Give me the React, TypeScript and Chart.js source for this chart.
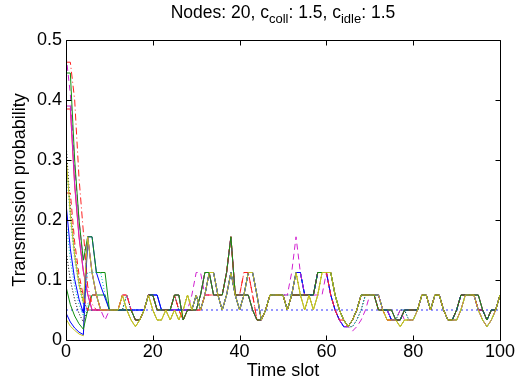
import React, { useEffect, useRef } from "react";
import { Chart, registerables } from "chart.js";

Chart.register(...registerables);

const FONT = 'Arial, "Liberation Sans", Helvetica, sans-serif';

// Axis ticks
const xTickValues = [0, 20, 40, 60, 80, 100];
const yTickValues = [0, 0.1, 0.2, 0.3, 0.4, 0.5];

// Reference (optimal) probability 1/N
const optimalP = 0.05;

// Heads: time slots 0..9
const headYellowA = [0.31, 0.21, 0.14, 0.093, 0.062, 0.172, 0.1125, 0.075, 0.05, 0.05];
const headGreen = [0.445, 0.445, 0.3, 0.2, 0.133, 0.172, 0.172, 0.1125, 0.1125, 0.1125];
const headRedDash = [0.245, 0.245, 0.163, 0.109, 0.073, 0.049, 0.075, 0.075, 0.05, 0.05];
const headMagentaDash = [0.475, 0.41, 0.29, 0.2, 0.13, 0.172, 0.1125, 0.075, 0.05, 0.0333];
const headBlue = [0.228, 0.152, 0.101, 0.068, 0.045, 0.172, 0.172, 0.1125, 0.09, 0.07];
const headCyanDot = [0.3, 0.2, 0.133, 0.089, 0.059, 0.1125, 0.1125, 0.1125, 0.1125, 0.075];
const headMagenta = [0.39, 0.39, 0.26, 0.173, 0.115, 0.077, 0.05, 0.05, 0.05, 0.05];
const headRedDashDot = [0.463, 0.463, 0.4, 0.27, 0.18, 0.09, 0.06, 0.05, 0.05, 0.05];
const headCyanDot2 = [0.2, 0.133, 0.089, 0.059, 0.04, 0.06, 0.075, 0.075, 0.05, 0.05];
const headGreenLow = [0.089, 0.059, 0.04, 0.027, 0.018, 0.05, 0.075, 0.075, 0.075, 0.075];
const headBlueLow = [0.045, 0.03, 0.02, 0.013, 0.009, 0.172, 0.1125, 0.075, 0.05, 0.05];
const headYellowB = [0.035, 0.023, 0.016, 0.01, 0.007, 0.172, 0.1125, 0.075, 0.05, 0.05];
const headRed = [0.385, 0.385, 0.257, 0.171, 0.114, 0.076, 0.05, 0.05, 0.05, 0.05];
const headBlackDot = [0.33, 0.22, 0.147, 0.098, 0.065, 0.05, 0.05, 0.05, 0.05, 0.05];
const headBlackDot2 = [0.15, 0.1, 0.067, 0.044, 0.03, 0.05, 0.05, 0.05, 0.05, 0.05];

// Tails: time slots 10..100
const tailYellow = [
  0.05, 0.05, 0.05, 0.075, 0.05, 0.0333, 0.0222, 0.0333, 0.05, 0.075,
  0.05, 0.0333, 0.0333, 0.05, 0.0333, 0.05, 0.0333, 0.05, 0.075, 0.05,
  0.075, 0.05, 0.075, 0.1125, 0.1125, 0.075, 0.05, 0.075, 0.1125, 0.075,
  0.05, 0.075, 0.1125, 0.1125, 0.075, 0.0333, 0.05, 0.075, 0.075, 0.075,
  0.075, 0.05, 0.075, 0.1125, 0.075, 0.05, 0.075, 0.05, 0.075, 0.1125,
  0.1125, 0.1125, 0.075, 0.05, 0.0333, 0.0222, 0.0333, 0.05, 0.075, 0.075,
  0.075, 0.075, 0.075, 0.05, 0.0333, 0.0333, 0.0333, 0.0222, 0.0333, 0.0333,
  0.0333, 0.05, 0.075, 0.075, 0.05, 0.075, 0.075, 0.05, 0.0333, 0.0333,
  0.0333, 0.05, 0.075, 0.075, 0.075, 0.05, 0.0333, 0.0222, 0.0333, 0.05,
  0.075,
];
const tailGreen = [
  0.05, 0.05, 0.05, 0.05, 0.05, 0.05, 0.0333, 0.0333, 0.05, 0.075,
  0.075, 0.05, 0.05, 0.05, 0.05, 0.075, 0.075, 0.0333, 0.05, 0.05,
  0.05, 0.075, 0.1125, 0.1125, 0.075, 0.075, 0.075, 0.1125, 0.172, 0.075,
  0.075, 0.075, 0.075, 0.05, 0.0333, 0.0333, 0.05, 0.075, 0.075, 0.075,
  0.075, 0.05, 0.075, 0.075, 0.075, 0.075, 0.075, 0.075, 0.1125, 0.1125,
  0.1125, 0.1125, 0.075, 0.05, 0.0333, 0.0222, 0.0333, 0.05, 0.075, 0.075,
  0.075, 0.075, 0.05, 0.05, 0.05, 0.05, 0.0333, 0.0333, 0.05, 0.05,
  0.05, 0.05, 0.075, 0.075, 0.05, 0.075, 0.075, 0.05, 0.0333, 0.0333,
  0.05, 0.075, 0.075, 0.075, 0.075, 0.075, 0.05, 0.0333, 0.05, 0.05,
  0.075,
];
const tailRed = [
  0.05, 0.05, 0.05, 0.075, 0.075, 0.05, 0.0333, 0.0333, 0.05, 0.075,
  0.075, 0.05, 0.05, 0.05, 0.05, 0.075, 0.05, 0.0333, 0.05, 0.05,
  0.05, 0.05, 0.075, 0.075, 0.075, 0.075, 0.075, 0.1125, 0.172, 0.075,
  0.075, 0.1125, 0.1125, 0.075, 0.0333, 0.0333, 0.05, 0.075, 0.075, 0.075,
  0.075, 0.05, 0.075, 0.075, 0.075, 0.075, 0.075, 0.075, 0.1125, 0.1125,
  0.1125, 0.075, 0.05, 0.0333, 0.0333, 0.0222, 0.0333, 0.05, 0.075, 0.075,
  0.075, 0.075, 0.05, 0.05, 0.0333, 0.0333, 0.0333, 0.0333, 0.05, 0.05,
  0.05, 0.05, 0.075, 0.075, 0.05, 0.075, 0.075, 0.05, 0.0333, 0.0333,
  0.05, 0.075, 0.075, 0.075, 0.075, 0.05, 0.05, 0.0333, 0.05, 0.05,
  0.075,
];
const tailMagenta = [
  0.05, 0.05, 0.05, 0.075, 0.075, 0.05, 0.0333, 0.0333, 0.05, 0.075,
  0.075, 0.05, 0.05, 0.05, 0.05, 0.05, 0.05, 0.05, 0.05, 0.075,
  0.1125, 0.1125, 0.075, 0.075, 0.075, 0.075, 0.075, 0.1125, 0.172, 0.075,
  0.075, 0.075, 0.075, 0.05, 0.0333, 0.0333, 0.05, 0.075, 0.075, 0.075,
  0.075, 0.075, 0.1125, 0.172, 0.1125, 0.075, 0.075, 0.075, 0.075, 0.075,
  0.1125, 0.075, 0.05, 0.0333, 0.0222, 0.0222, 0.0148, 0.0222, 0.0333, 0.05,
  0.075, 0.075, 0.075, 0.05, 0.05, 0.0333, 0.0333, 0.05, 0.0333, 0.0333,
  0.0333, 0.05, 0.075, 0.075, 0.05, 0.075, 0.075, 0.05, 0.0333, 0.0333,
  0.0333, 0.05, 0.075, 0.075, 0.075, 0.05, 0.0333, 0.0222, 0.0333, 0.05,
  0.075,
];
const tailBlue = [
  0.05, 0.05, 0.05, 0.05, 0.05, 0.05, 0.05, 0.05, 0.05, 0.075,
  0.075, 0.075, 0.05, 0.05, 0.05, 0.05, 0.05, 0.05, 0.05, 0.05,
  0.075, 0.05, 0.075, 0.1125, 0.1125, 0.075, 0.05, 0.075, 0.1125, 0.075,
  0.05, 0.075, 0.1125, 0.1125, 0.075, 0.0333, 0.05, 0.075, 0.075, 0.075,
  0.075, 0.05, 0.075, 0.1125, 0.1125, 0.075, 0.075, 0.075, 0.1125, 0.1125,
  0.1125, 0.075, 0.05, 0.0333, 0.0222, 0.0222, 0.0333, 0.05, 0.075, 0.075,
  0.075, 0.075, 0.075, 0.05, 0.05, 0.0333, 0.0333, 0.0333, 0.05, 0.05,
  0.05, 0.05, 0.075, 0.075, 0.05, 0.075, 0.075, 0.05, 0.0333, 0.0333,
  0.05, 0.075, 0.075, 0.075, 0.075, 0.05, 0.05, 0.0333, 0.05, 0.05,
  0.075,
];
const tailCyan = [
  0.05, 0.05, 0.05, 0.05, 0.075, 0.05, 0.0333, 0.0333, 0.05, 0.075,
  0.075, 0.05, 0.05, 0.05, 0.05, 0.075, 0.05, 0.05, 0.05, 0.05,
  0.075, 0.05, 0.075, 0.1125, 0.1125, 0.075, 0.05, 0.075, 0.1125, 0.075,
  0.05, 0.075, 0.1125, 0.1125, 0.075, 0.0333, 0.05, 0.075, 0.075, 0.075,
  0.075, 0.075, 0.075, 0.1125, 0.1125, 0.075, 0.075, 0.075, 0.1125, 0.1125,
  0.1125, 0.1125, 0.075, 0.05, 0.0333, 0.0222, 0.0222, 0.0333, 0.05, 0.075,
  0.075, 0.075, 0.075, 0.05, 0.05, 0.0333, 0.0333, 0.05, 0.05, 0.0333,
  0.0333, 0.05, 0.075, 0.075, 0.05, 0.075, 0.075, 0.05, 0.0333, 0.0333,
  0.0333, 0.05, 0.075, 0.075, 0.075, 0.05, 0.0333, 0.0222, 0.0333, 0.05,
  0.075,
];

// Colours and line styles (MATLAB-like)
const C_BLUE = "#0000ff";
const C_GREEN = "#109010";
const C_RED = "#ff2020";
const C_CYAN = "#00bfbf";
const C_MAGENTA = "#d020d0";
const C_YELLOW = "#c4c420";
const C_BLACK = "#000000";

const SOLID: number[] = [];
const DASHED = [6, 4];
const DASHDOT = [7, 3, 1, 3];
const DOTTED = [1, 2];

// Node series: head + tail, index 0 drawn on top
const nodeSeries = [
  { head: headYellowA, tail: tailYellow, color: C_YELLOW, dash: SOLID },
  { head: headGreen, tail: tailGreen, color: C_GREEN, dash: SOLID },
  { head: headRedDash, tail: tailRed, color: C_RED, dash: DASHED },
  { head: headMagentaDash, tail: tailMagenta, color: C_MAGENTA, dash: DASHED },
  { head: headBlue, tail: tailBlue, color: C_BLUE, dash: SOLID },
  { head: headCyanDot, tail: tailCyan, color: C_CYAN, dash: DOTTED },
  { head: headMagenta, tail: tailGreen, color: C_MAGENTA, dash: SOLID },
  { head: headRedDashDot, tail: tailRed, color: C_RED, dash: DASHDOT },
  { head: headCyanDot2, tail: tailBlue, color: C_CYAN, dash: DOTTED },
  { head: headGreenLow, tail: tailGreen, color: C_GREEN, dash: SOLID },
  { head: headBlueLow, tail: tailBlue, color: C_BLUE, dash: SOLID },
  { head: headYellowB, tail: tailYellow, color: C_YELLOW, dash: SOLID },
  { head: headRed, tail: tailGreen, color: C_RED, dash: SOLID },
  { head: headBlackDot, tail: tailYellow, color: C_BLACK, dash: DOTTED },
  { head: headBlackDot2, tail: tailCyan, color: C_BLACK, dash: DOTTED },
];

const framePlugin = {
  id: "matlabFrame",
  afterDatasetsDraw(chart: any) {
    const { ctx, chartArea, scales } = chart;
    const l = Math.round(chartArea.left) + 0.5;
    const r = Math.round(chartArea.right) + 0.5;
    const t = Math.round(chartArea.top) + 0.5;
    const b = Math.round(chartArea.bottom) + 0.5;
    const tl = 5;
    ctx.save();
    ctx.strokeStyle = "#000";
    ctx.lineWidth = 1;
    ctx.setLineDash([]);
    ctx.beginPath();
    ctx.rect(l, t, r - l, b - t);
    for (const v of xTickValues) {
      const px = Math.round(scales.x.getPixelForValue(v)) + 0.5;
      ctx.moveTo(px, b);
      ctx.lineTo(px, b - tl);
      ctx.moveTo(px, t);
      ctx.lineTo(px, t + tl);
    }
    for (const v of yTickValues) {
      const py = Math.round(scales.y.getPixelForValue(v)) + 0.5;
      ctx.moveTo(l, py);
      ctx.lineTo(l + tl, py);
      ctx.moveTo(r, py);
      ctx.lineTo(r - tl, py);
    }
    ctx.stroke();
    ctx.restore();
  },
};

export default function App() {
  const canvasRef = useRef<HTMLCanvasElement | null>(null);

  useEffect(() => {
    if (!canvasRef.current) return;
    const datasets: any[] = nodeSeries.map((s) => {
      const values = [...s.head, ...s.tail];
      return {
        data: values.map((y, i) => ({ x: i, y })),
        borderColor: s.color,
        backgroundColor: s.color,
        borderDash: s.dash,
        borderWidth: 1,
        pointRadius: 0,
        fill: false,
        tension: 0,
      };
    });
    datasets.push({
      data: [
        { x: 0, y: optimalP },
        { x: 100, y: optimalP },
      ],
      borderColor: "#3030ff",
      borderDash: [2, 3],
      borderWidth: 1,
      pointRadius: 0,
      fill: false,
    });

    const tickFont = { family: FONT, size: 18 };
    const chart = new Chart(canvasRef.current, {
      type: "line",
      data: { datasets },
      options: {
        animation: false,
        responsive: true,
        maintainAspectRatio: false,
        layout: { padding: { left: 0, right: 17, top: 40, bottom: 0 } },
        plugins: {
          legend: { display: false },
          tooltip: { enabled: false },
          title: { display: false },
        },
        scales: {
          x: {
            type: "linear",
            min: 0,
            max: 100,
            grid: { display: false, drawTicks: false },
            border: { display: false },
            afterBuildTicks: (scale: any) => {
              scale.ticks = xTickValues.map((v) => ({ value: v }));
            },
            ticks: {
              font: tickFont,
              color: "#000",
              padding: 1,
              maxRotation: 0,
              autoSkip: false,
            },
            title: {
              display: true,
              text: "Time slot",
              font: tickFont,
              color: "#000",
              padding: { top: 0, bottom: 6 },
            },
            afterFit: (scale: any) => {
              scale.height = 48;
            },
          },
          y: {
            type: "linear",
            min: 0,
            max: 0.5,
            grid: { display: false, drawTicks: false },
            border: { display: false },
            afterBuildTicks: (scale: any) => {
              scale.ticks = yTickValues.map((v) => ({ value: v }));
            },
            ticks: {
              font: tickFont,
              color: "#000",
              padding: 4,
              autoSkip: false,
              callback: (v: any) => String(Math.round(Number(v) * 10) / 10),
            },
            title: {
              display: true,
              text: "Transmission probability",
              font: tickFont,
              color: "#000",
              padding: { top: 9, bottom: 0 },
            },
            afterFit: (scale: any) => {
              scale.width = 66;
            },
          },
        },
      } as any,
      plugins: [framePlugin],
    });
    return () => chart.destroy();
  }, []);

  return (
    <div
      style={{
        position: "fixed",
        left: 0,
        top: 0,
        width: 517,
        height: 388,
        background: "#fff",
      }}
    >
      <div
        style={{
          position: "absolute",
          left: 0,
          top: 2,
          width: 566,
          textAlign: "center",
          fontFamily: FONT,
          fontSize: 17.5,
          lineHeight: "20px",
          color: "#000",
          whiteSpace: "nowrap",
        }}
      >
        Nodes: 20, c
        <span style={{ position: "relative", top: 5, fontSize: 13 }}>coll</span>
        : 1.5, c
        <span style={{ position: "relative", top: 5, fontSize: 13 }}>idle</span>
        : 1.5
      </div>
      <canvas ref={canvasRef} style={{ position: "absolute", left: 0, top: 0 }} />
    </div>
  );
}
